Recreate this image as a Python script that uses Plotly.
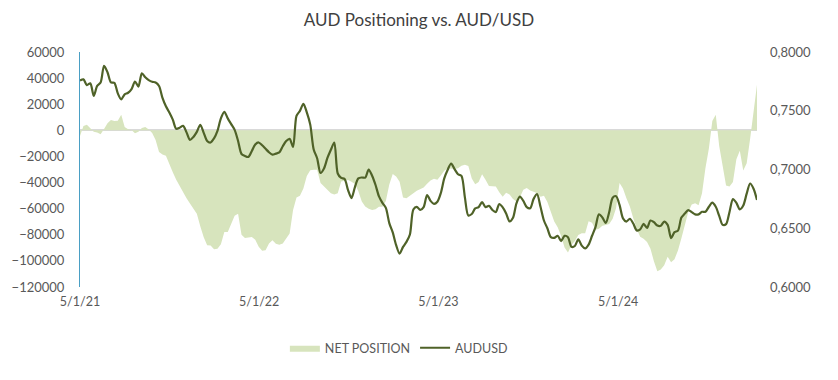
import pandas as pd
import plotly.graph_objects as go

# Weekly observations starting 1 May 2021
start_date = "2021-05-01"
n_weeks = 198
dates = pd.date_range(start_date, periods=n_weeks, freq="7D")

net_position = [
    -4300, 3400, 4300, 1800, -1100, -1700, -3000, 1100, 5500, 8000,
    7100, 7400, 12000, 2600, 900, 300, -2200, -1000, 1800, 2600,
    700, -2000, -7400, -16600, -18500, -19500, -26400, -32100, -37900, -42900,
    -47800, -52100, -56100, -59600, -63800, -73400, -81900, -88000, -88200, -91100,
    -90700, -87200, -77800, -77800, -71900, -65500, -63800, -80000, -82400, -82300,
    -81700, -83900, -89200, -92200, -91900, -86700, -84200, -86800, -87600, -86700,
    -82600, -79000, -61100, -51500, -50100, -44600, -35000, -30600, -30200, -30100,
    -40400, -43100, -45200, -48200, -49200, -48100, -39200, -38400, -38100, -39400,
    -41100, -46700, -54500, -58400, -60100, -61100, -60400, -58600, -58600, -54100,
    -41500, -33500, -35400, -39400, -51500, -52100, -50400, -48100, -46300, -45000,
    -43800, -40900, -38500, -37100, -37900, -34500, -30900, -29100, -29100, -29600,
    -29000, -27200, -26300, -27300, -36900, -41300, -39600, -33600, -37900, -42700,
    -42900, -43000, -47400, -50800, -47800, -49200, -52600, -54500, -51500, -45600,
    -44200, -46100, -47000, -48200, -50900, -50200, -54800, -61700, -69800, -74200,
    -80900, -89800, -93600, -87800, -84700, -80200, -78800, -78900, -69600, -70700,
    -76100, -75300, -73100, -72500, -71700, -67700, -59400, -40400, -44500, -52000,
    -58300, -67300, -75600, -81600, -83000, -85600, -90700, -100300, -108000, -106500,
    -103400, -96800, -101100, -98700, -92000, -82600, -72300, -62500, -56800, -55800,
    -57400, -48100, -28900, -13900, 7200, 12000, -12000, -28500, -42200, -43100,
    -39500, -22100, -15700, -30800, -25300, -6400, 13400, 34900,
]

audusd = [
    0.7758, 0.7767, 0.7718, 0.7733, 0.7627, 0.7712, 0.7740, 0.7883, 0.7828, 0.7741,
    0.7738, 0.7648, 0.7597, 0.7640, 0.7653, 0.7684, 0.7749, 0.7706, 0.7819, 0.7785,
    0.7761, 0.7747, 0.7741, 0.7711, 0.7610, 0.7538, 0.7485, 0.7424, 0.7346, 0.7355,
    0.7371, 0.7316, 0.7252, 0.7277, 0.7320, 0.7380, 0.7312, 0.7243, 0.7230, 0.7265,
    0.7329, 0.7435, 0.7491, 0.7435, 0.7386, 0.7337, 0.7243, 0.7132, 0.7115, 0.7107,
    0.7158, 0.7213, 0.7230, 0.7206, 0.7176, 0.7147, 0.7126, 0.7135, 0.7145, 0.7198,
    0.7242, 0.7261, 0.7192, 0.7457, 0.7499, 0.7559, 0.7486, 0.7382, 0.7171, 0.7096,
    0.6970, 0.7008, 0.7098, 0.7168, 0.7230, 0.6966, 0.6928, 0.6919, 0.6825, 0.6757,
    0.6851, 0.6924, 0.6932, 0.6931, 0.7000, 0.6947, 0.6868, 0.6771, 0.6716, 0.6673,
    0.6544, 0.6465, 0.6356, 0.6284, 0.6341, 0.6384, 0.6447, 0.6659, 0.6682, 0.6656,
    0.6680, 0.6783, 0.6733, 0.6708, 0.6726, 0.6800, 0.6924, 0.6998, 0.7051, 0.7003,
    0.6960, 0.6945, 0.6763, 0.6609, 0.6621, 0.6669, 0.6680, 0.6723, 0.6680, 0.6691,
    0.6655, 0.6638, 0.6706, 0.6678, 0.6626, 0.6558, 0.6589, 0.6712, 0.6769, 0.6733,
    0.6680, 0.6670, 0.6750, 0.6790, 0.6683, 0.6566, 0.6500, 0.6425, 0.6418, 0.6436,
    0.6391, 0.6435, 0.6424, 0.6342, 0.6349, 0.6406, 0.6352, 0.6328, 0.6361, 0.6436,
    0.6510, 0.6618, 0.6592, 0.6545, 0.6638, 0.6760, 0.6773, 0.6699, 0.6584, 0.6557,
    0.6581, 0.6540, 0.6482, 0.6490, 0.6537, 0.6503, 0.6566, 0.6552, 0.6523, 0.6521,
    0.6557, 0.6529, 0.6416, 0.6467, 0.6480, 0.6591, 0.6625, 0.6655, 0.6637, 0.6618,
    0.6618, 0.6640, 0.6640, 0.6683, 0.6718, 0.6683, 0.6605, 0.6529, 0.6535, 0.6639,
    0.6748, 0.6716, 0.6661, 0.6693, 0.6794, 0.6881, 0.6836, 0.6740,
]

tick_dates = ["2021-05-01", "2022-05-01", "2023-05-01", "2024-05-01"]
tick_labels = ["5/1/21", "5/1/22", "5/1/23", "5/1/24"]

FONT = "Lato, 'Open Sans', sans-serif"
AREA_COLOR = "#D7E4BD"
LINE_COLOR = "#4F6228"

fig = go.Figure()
fig.add_trace(go.Scatter(
    x=dates, y=net_position, name="NET POSITION",
    mode="lines", fill="tozeroy", fillcolor=AREA_COLOR,
    line=dict(width=0, color=AREA_COLOR),
    yaxis="y",
))
fig.add_trace(go.Scatter(
    x=dates, y=audusd, name="AUDUSD",
    mode="lines", line=dict(color=LINE_COLOR, width=2.2, shape="spline", smoothing=0.8),
    yaxis="y2",
))

fig.update_layout(
    width=838, height=380,
    margin=dict(l=77, r=81, t=52, b=93),
    paper_bgcolor="white", plot_bgcolor="white",
    separators=",.",
    font=dict(family=FONT, size=13, color="#595959"),
    title=dict(text="AUD Positioning vs. AUD/USD", x=0.5, xanchor="center",
               y=1 - 20 / 380, yanchor="middle",
               font=dict(family=FONT, size=17, color="#404040")),
    showlegend=True,
    legend=dict(orientation="h", x=0.471, xanchor="center", y=-0.26, yanchor="middle",
                font=dict(family=FONT, size=12.5, color="#595959"),
                itemwidth=30, traceorder="normal"),
    xaxis=dict(
        type="date", range=[dates[0], dates[-1]],
        tickvals=tick_dates, ticktext=tick_labels,
        showgrid=False, zeroline=False, showline=False, ticks="",
        tickfont=dict(size=12.5, color="#595959"), ticklabelstandoff=5,
    ),
    yaxis=dict(
        range=[-120000, 60000], dtick=20000, tickformat="d",
        showgrid=False, zeroline=True, zerolinecolor="#D9D9D9", zerolinewidth=1.5,
        showline=True, linecolor="#4A9FC4", linewidth=1,
        ticks="", ticklabelstandoff=12,
    ),
    yaxis2=dict(
        range=[0.6, 0.8], dtick=0.05, tickformat=".4f",
        overlaying="y", side="right",
        showgrid=False, zeroline=False, showline=False,
        ticks="", ticklabelstandoff=12,
    ),
)

fig.write_html("out.html", config={"displayModeBar": False},
               post_script="document.body.style.margin='0';")
